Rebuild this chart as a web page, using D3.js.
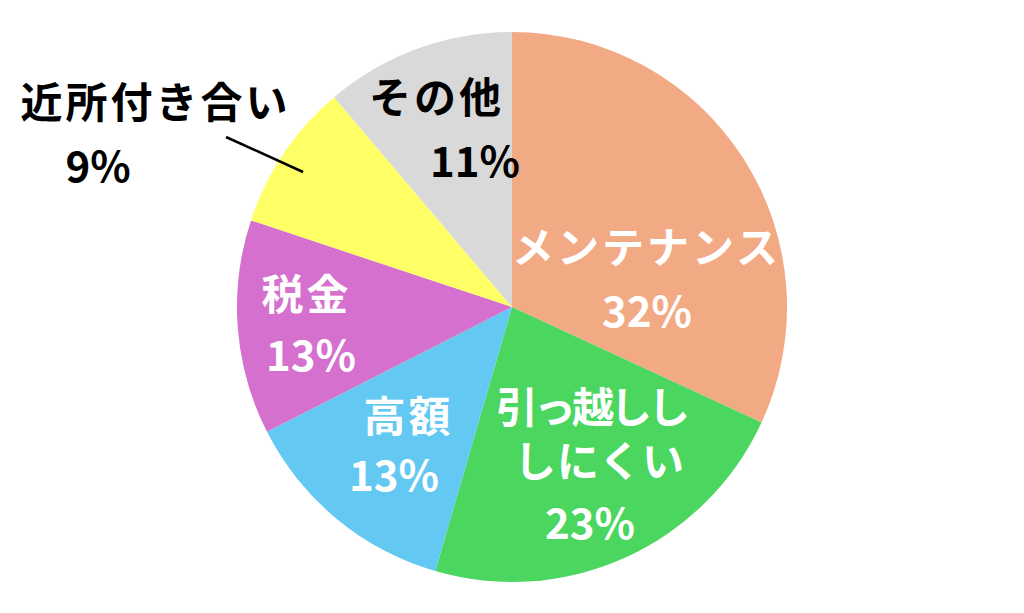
<!DOCTYPE html>
<meta charset="utf-8">
<script src="https://d3js.org/d3.v7.min.js"></script>
<style>
  body { margin: 0; background: #fff; }
  text { font-family: "Noto Sans CJK JP", "Noto Sans", sans-serif; }
</style>
<body>
<div id="chart"></div>
<script>
// data (percent of total)
var categories = ["メンテナンス", "引っ越ししにくい", "高額", "税金", "近所付き合い", "その他"];
var values = [31.9, 22.6, 13.0, 12.6, 8.7, 11.2];
var nameLines = [["メンテナンス"], ["引っ越しし", "しにくい"], ["高額"], ["税金"], ["近所付き合い"], ["その他"]];
var colors = ["#F2AA84", "#4AD65F", "#64C9F2", "#D670CE", "#FFFF66", "#D9D9D9"];

// label layout: offsets from the pie centre for each line (name lines, then percent)
// third value = letter-spacing for that line
var labelLayout = [
  { fill: "#fff", lines: [[133, -63, 3], [135, 1, 0]] },
  { fill: "#fff", lines: [[81, 97, -4], [87, 151, 1], [78, 213, 0]] },
  { fill: "#fff", lines: [[-105, 106, 3], [-118, 165, 0]] },
  { fill: "#fff", lines: [[-207, -16, 3], [-201, 45, 0]] },
  { fill: "#000", lines: [[-358, -208, 3], [-414, -144, 0]], leader: [[-286, -170], [-209, -135]] },
  { fill: "#000", lines: [[-77, -213, 3], [-37, -149, 0]] }
];

var width = 1024, height = 613,
    cx = 512, cy = 307, radius = 275;

var svg = d3.select("#chart")
  .append("svg")
    .attr("width", width)
    .attr("height", height)
  .append("g")
    .attr("transform", "translate(" + cx + "," + cy + ")");

var data = categories.map(function(c, i) { return { name: c, value: values[i], i: i }; });

var pie = d3.pie()
  .sort(null)
  .value(function(d) { return d.value; });

var arc = d3.arc()
  .innerRadius(0)
  .outerRadius(radius);

var arcs = pie(data);

svg.selectAll("path.slice")
  .data(arcs)
  .enter()
  .append("path")
    .attr("class", "slice")
    .attr("d", arc)
    .attr("fill", function(d) { return colors[d.data.i]; });

// labels
arcs.forEach(function(a) {
  var i = a.data.i,
      lay = labelLayout[i],
      names = nameLines[i],
      txt = names.concat([Math.round(a.data.value) + "%"]);

  if (lay.leader) {
    svg.append("line")
      .attr("x1", lay.leader[0][0]).attr("y1", lay.leader[0][1])
      .attr("x2", lay.leader[1][0]).attr("y2", lay.leader[1][1])
      .attr("stroke", "#000")
      .attr("stroke-width", 2.5);
  }

  txt.forEach(function(t, k) {
    var ls = lay.lines[k][2];
    svg.append("text")
      .attr("x", lay.lines[k][0] + ls / 2)
      .attr("y", lay.lines[k][1])
      .attr("text-anchor", "middle")
      .attr("dominant-baseline", "central")
      .attr("fill", lay.fill)
      .style("font-size", "42px")
      .style("letter-spacing", ls + "px")
      .style("font-weight", "bold")
      .text(t);
  });
});
</script>
</body>
